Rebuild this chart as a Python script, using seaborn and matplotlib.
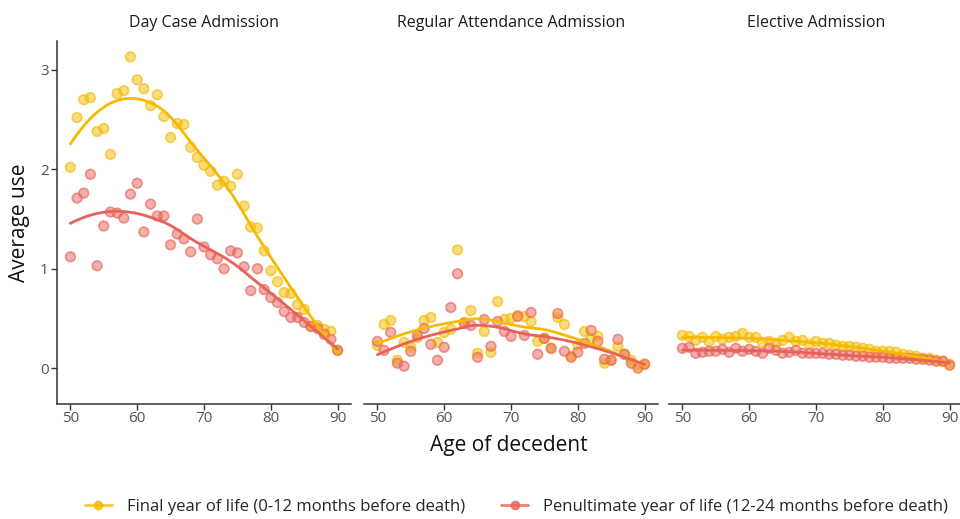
import numpy as np
import pandas as pd
import seaborn as sns
import matplotlib
matplotlib.use('Agg')
import matplotlib.pyplot as plt
from matplotlib.lines import Line2D

ages = list(range(50, 91))

panels = ['Day Case Admission', 'Regular Attendance Admission', 'Elective Admission']
series = ['Final year of life (0-12 months before death)',
          'Penultimate year of life (12-24 months before death)']

# Day case admission
day_final = [2.02, 2.52, 2.70, 2.72, 2.38, 2.41, 2.15, 2.76, 2.79, 3.13,
             2.90, 2.81, 2.64, 2.75, 2.53, 2.32, 2.46, 2.45, 2.22, 2.12,
             2.04, 1.98, 1.84, 1.88, 1.83, 1.95, 1.63, 1.42, 1.41, 1.18,
             0.98, 0.87, 0.76, 0.75, 0.64, 0.59, 0.42, 0.43, 0.39, 0.37,
             0.18]
day_penult = [1.12, 1.71, 1.76, 1.95, 1.03, 1.43, 1.57, 1.56, 1.51, 1.75,
              1.86, 1.37, 1.65, 1.53, 1.53, 1.24, 1.35, 1.30, 1.17, 1.50,
              1.22, 1.14, 1.10, 1.00, 1.18, 1.16, 1.02, 0.78, 1.00, 0.79,
              0.71, 0.66, 0.57, 0.51, 0.51, 0.46, 0.42, 0.40, 0.34, 0.29,
              0.18]

# Regular attendance admission
reg_final = [0.23, 0.44, 0.48, 0.08, 0.26, 0.21, 0.31, 0.48, 0.51, 0.26,
             0.36, 0.39, 1.19, 0.46, 0.58, 0.15, 0.37, 0.16, 0.67, 0.49,
             0.50, 0.53, 0.52, 0.47, 0.27, 0.30, 0.20, 0.51, 0.44, 0.12,
             0.23, 0.37, 0.30, 0.32, 0.05, 0.08, 0.22, 0.14, 0.08, 0.02,
             0.04]
reg_penult = [0.27, 0.18, 0.36, 0.05, 0.02, 0.17, 0.33, 0.40, 0.24, 0.08,
              0.21, 0.61, 0.95, 0.45, 0.43, 0.11, 0.49, 0.22, 0.47, 0.37,
              0.32, 0.52, 0.33, 0.56, 0.14, 0.30, 0.20, 0.55, 0.17, 0.11,
              0.16, 0.25, 0.38, 0.27, 0.09, 0.08, 0.29, 0.14, 0.05, 0.00,
              0.04]

# Elective admission
ele_final = [0.33, 0.32, 0.28, 0.31, 0.27, 0.32, 0.29, 0.31, 0.32, 0.35,
             0.31, 0.31, 0.26, 0.27, 0.25, 0.28, 0.31, 0.27, 0.28, 0.24,
             0.27, 0.25, 0.25, 0.23, 0.22, 0.22, 0.21, 0.20, 0.19, 0.17,
             0.17, 0.17, 0.16, 0.14, 0.13, 0.12, 0.10, 0.10, 0.08, 0.07,
             0.04]
ele_penult = [0.20, 0.21, 0.15, 0.16, 0.17, 0.17, 0.19, 0.16, 0.20, 0.17,
              0.19, 0.17, 0.15, 0.20, 0.18, 0.15, 0.16, 0.18, 0.15, 0.15,
              0.15, 0.15, 0.14, 0.14, 0.13, 0.13, 0.12, 0.12, 0.11, 0.11,
              0.11, 0.10, 0.10, 0.10, 0.10, 0.09, 0.09, 0.08, 0.07, 0.07,
              0.03]

values = {
    panels[0]: (day_final, day_penult),
    panels[1]: (reg_final, reg_penult),
    panels[2]: (ele_final, ele_penult),
}

rows = []
for p in panels:
    for s, v in zip(series, values[p]):
        for a, y in zip(ages, v):
            rows.append({'panel': p, 'series': s, 'age': a, 'use': y})
df = pd.DataFrame(rows)

colors = {series[0]: '#F5BA00', series[1]: '#E8625A'}


def loess(x, y, span=0.75, grid=None):
    # local quadratic fit with tricube weights (like R's loess default)
    x = np.asarray(x, float)
    y = np.asarray(y, float)
    if grid is None:
        grid = np.linspace(x.min(), x.max(), 80)
    q = int(np.floor(span * len(x)))
    out = []
    for x0 in grid:
        d = np.abs(x - x0)
        h = np.sort(d)[q - 1]
        w = np.clip(1 - (d / h) ** 3, 0, None) ** 3
        X = np.column_stack([np.ones_like(x), x - x0, (x - x0) ** 2])
        W = np.diag(w)
        beta = np.linalg.solve(X.T @ W @ X, X.T @ W @ y)
        out.append(beta[0])
    return grid, np.array(out)


sns.set_style('white')
plt.rcParams['font.family'] = ['Open Sans', 'DejaVu Sans']

fig = plt.figure(figsize=(9.6, 5.19), dpi=100)
lefts = [57, 364, 669]
axes = []
for i, p in enumerate(panels):
    ax = fig.add_axes([lefts[i] / 960, 1 - 404 / 519, 294 / 960, (404 - 41) / 519])
    axes.append(ax)
    sub = df[df['panel'] == p]
    sns.scatterplot(data=sub, x='age', y='use', hue='series', palette=colors,
                    s=48, alpha=0.5, linewidth=0, ax=ax, legend=False)
    # outline in series colour
    for s in series:
        ss = sub[sub['series'] == s]
        ax.scatter(ss['age'], ss['use'], s=48, facecolors='none',
                   edgecolors=colors[s], linewidths=1.2, alpha=0.65)
    for s in series:
        ss = sub[sub['series'] == s]
        gx, gy = loess(ss['age'], ss['use'])
        sns.lineplot(x=gx, y=gy, color=colors[s], linewidth=2, ax=ax)

    ax.set_xlim(48, 92)
    ax.set_ylim(-0.36, 3.29)
    ax.set_xticks([50, 60, 70, 80, 90])
    ax.set_xlabel('')
    ax.set_ylabel('')
    ax.set_title(p, fontsize=11.5, color='#1a1a1a', pad=10)
    for side in ['top', 'right']:
        ax.spines[side].set_visible(False)
    ax.spines['bottom'].set_color('#333333')
    ax.spines['bottom'].set_linewidth(1.1)
    ax.tick_params(axis='x', length=4, width=1, color='#333333',
                   labelsize=11, labelcolor='#555555', bottom=True, pad=1)
    if i == 0:
        ax.spines['left'].set_color('#333333')
        ax.spines['left'].set_linewidth(1.1)
        ax.set_yticks([0, 1, 2, 3])
        ax.tick_params(axis='y', length=4, width=1, color='#333333',
                       labelsize=11, labelcolor='#555555', left=True, pad=2)
        ax.set_ylabel('Average use', fontsize=15, color='#111111', labelpad=7)
    else:
        ax.spines['left'].set_visible(False)
        ax.set_yticks([])

fig.text(0.53, 1 - 446 / 519, 'Age of decedent', ha='center', va='center',
         fontsize=15, color='#111111')

handles = [Line2D([0], [0], color=colors[s], linewidth=2, marker='o',
                  markersize=6, markerfacecolor=colors[s], alpha=0.8)
           for s in series]
fig.legend(handles, series, loc='center', bbox_to_anchor=(0.538, 1 - 507 / 519),
           ncol=2, frameon=False, fontsize=12, handlelength=1.6,
           columnspacing=2.2, handletextpad=0.9)

fig.savefig('out.png', dpi=100)
